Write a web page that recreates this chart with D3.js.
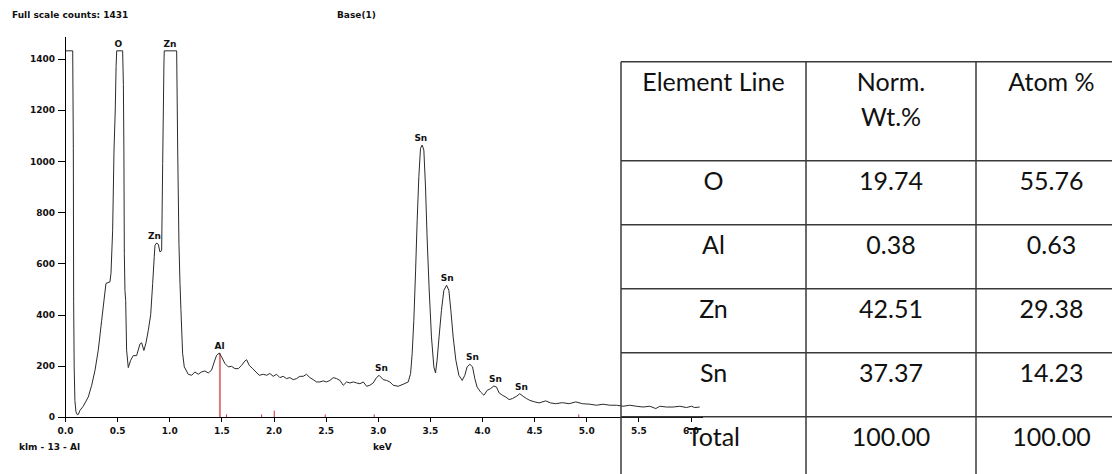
<!DOCTYPE html>
<html>
<head>
<meta charset="utf-8">
<script src="https://cdn.jsdelivr.net/npm/d3@7"></script>
<style>
  body { margin: 0; background: #fff; }
  svg { display: block; }
  .small { font-family: "DejaVu Sans", sans-serif; font-weight: bold; font-size: 9px; fill: #111; }
  .axis path, .axis line { stroke: #000; shape-rendering: crispEdges; }
  .axis text { font-family: "DejaVu Sans", sans-serif; font-weight: bold; font-size: 9px; fill: #111; }
  .cell { font-family: Lato, "Open Sans", sans-serif; font-size: 25px; fill: #111; }
</style>
</head>
<body>
<div class="eds"></div>
<script>
  // spectrum (keV / counts, clipped at full scale 1431)
  var spectrumKeV = [0.000, 0.074, 0.080, 0.083, 0.088, 0.095, 0.105, 0.118, 0.128, 0.144, 0.175, 0.223, 0.256, 0.288, 0.319, 0.352, 0.374, 0.393, 0.431, 0.441, 0.457, 0.470, 0.482, 0.490, 0.496, 0.553, 0.560, 0.565, 0.569, 0.575, 0.582, 0.591, 0.607,
    0.630, 0.655, 0.687, 0.719, 0.735, 0.757, 0.777, 0.799, 0.822, 0.841, 0.856, 0.863, 0.879, 0.895, 0.911, 0.927, 0.937, 0.949, 0.952, 1.071, 1.081, 1.093, 1.103, 1.112, 1.128, 1.144,
    1.182, 1.215, 1.246, 1.278, 1.310, 1.342, 1.374, 1.406, 1.431, 1.454, 1.480, 1.502, 1.534, 1.566, 1.598, 1.630, 1.662, 1.694, 1.726, 1.742, 1.767, 1.800, 1.831, 1.863, 1.902, 1.934, 1.965, 1.997,
    2.029, 2.061, 2.093, 2.125, 2.157, 2.189, 2.221, 2.253, 2.285, 2.317, 2.349, 2.381, 2.413, 2.445, 2.477, 2.509, 2.541, 2.573, 2.605, 2.637, 2.669, 2.701, 2.733, 2.765, 2.797, 2.829, 2.861, 2.893, 2.924, 2.956, 2.988,
    3.013, 3.052, 3.084, 3.116, 3.148, 3.196, 3.244, 3.292, 3.315, 3.330, 3.346, 3.363, 3.378, 3.394, 3.410, 3.426, 3.442, 3.458, 3.473, 3.492, 3.515, 3.538, 3.554, 3.569, 3.588, 3.611, 3.634, 3.660, 3.682,
    3.701, 3.723, 3.749, 3.778, 3.810, 3.835, 3.857, 3.883, 3.909, 3.931, 3.953, 3.986, 4.018, 4.049, 4.082, 4.113, 4.139, 4.164, 4.196, 4.228, 4.260, 4.292, 4.331, 4.362, 4.394, 4.427, 4.458, 4.506, 4.547,
    4.611, 4.659, 4.707, 4.770, 4.835, 4.899, 4.963, 5.034, 5.098, 5.161, 5.225, 5.289, 5.353, 5.417, 5.481, 5.545, 5.609, 5.667, 5.705, 5.769, 5.833, 5.897, 5.961, 6.009, 6.041, 6.088];
  var spectrumCounts = [1431, 1431, 1050, 450, 195, 65, 20, 9, 10, 26, 42, 78, 124, 183, 261, 378, 456, 522, 528, 561, 730, 1043, 1200, 1369, 1431, 1431, 1300, 1043, 640, 495, 456, 261, 193,
    222, 240, 240, 285, 290, 260, 290, 339, 400, 522, 626, 671, 680, 675, 645, 650, 991, 1383, 1431, 1431, 1043, 678, 522, 420, 249, 196,
    167, 163, 176, 167, 176, 180, 172, 183, 215, 241, 250, 235, 209, 196, 198, 189, 189, 202, 219, 224, 202, 189, 176, 163, 167, 163, 170, 159,
    167, 154, 159, 150, 154, 146, 150, 159, 159, 167, 154, 146, 137, 137, 141, 137, 143, 154, 150, 143, 124, 137, 133, 137, 133, 130, 137, 120, 124, 133, 154,
    163, 146, 143, 137, 124, 120, 128, 137, 170, 248, 378, 574, 769, 939, 1050, 1063, 1043, 899, 704, 508, 313, 196, 172, 222, 313, 417, 495, 515, 495,
    417, 313, 222, 163, 143, 163, 196, 206, 196, 150, 117, 98, 85, 104, 111, 121, 117, 94, 85, 78, 68, 72, 81, 91, 81, 72, 65, 59, 55,
    63, 55, 52, 56, 52, 59, 52, 50, 46, 50, 46, 46, 42, 46, 42, 39, 42, 33, 42, 39, 39, 42, 37, 42, 37, 39];

  var peakNames = ["O", "Zn", "Zn", "Al", "Sn", "Sn", "Sn", "Sn", "Sn", "Sn"];
  var peakKeV = [0.511, 1.007, 0.858, 1.483, 3.036, 3.413, 3.667, 3.909, 4.129, 4.379];
  var peakCounts = [1431, 1431, 680, 250, 163, 1063, 515, 206, 121, 91];

  // element marker lines (red)
  var markerKeV = [1.486, 1.55, 1.886, 2.007, 2.496, 2.966, 4.928];
  var markerCounts = [250, 10, 10, 25, 10, 10, 10];

  var xTicks = d3.range(0, 6.01, 0.5);
  var yTicks = [0, 200, 400, 600, 800, 1000, 1200, 1400];

  var tableHeader = [["Element Line"], ["Norm.", "Wt.%"], ["Atom %"]];
  var elements = ["O", "Al", "Zn", "Sn", "Total"];
  var normWt = ["19.74", "0.38", "42.51", "37.37", "100.00"];
  var atomPct = ["55.76", "0.63", "29.38", "14.23", "100.00"];

  var width = 1112, height = 474;

  var svg = d3.select(".eds").append("svg")
      .attr("width", width)
      .attr("height", height);

  var x = d3.scaleLinear().domain([0, 6.11]).range([65, 702]);
  var y = d3.scaleLinear().domain([0, 1489]).range([417, 36]);

  svg.append("text").attr("class", "small")
      .attr("x", 12).attr("y", 18)
      .text("Full scale counts: 1431");
  svg.append("text").attr("class", "small")
      .attr("x", 337).attr("y", 18)
      .text("Base(1)");

  // red marker lines
  svg.selectAll(".marker")
      .data(markerKeV)
      .enter().append("line")
      .attr("class", "marker")
      .attr("x1", function(d) { return x(d); })
      .attr("x2", function(d) { return x(d); })
      .attr("y1", y(0))
      .attr("y2", function(d, i) { return y(markerCounts[i]); })
      .attr("stroke", function(d, i) { return i == 0 ? "#e07a7a" : "#d03030"; })
      .attr("stroke-width", function(d, i) { return i == 0 ? 2 : 1; });

  var line = d3.line()
      .x(function(d) { return x(d); })
      .y(function(d, i) { return y(spectrumCounts[i]); });

  svg.append("path")
      .attr("d", line(spectrumKeV))
      .attr("fill", "none")
      .attr("stroke", "#2a2a2a")
      .attr("stroke-width", 1);

  svg.append("g")
      .attr("class", "x axis")
      .attr("transform", "translate(0," + y(0) + ")")
      .call(d3.axisBottom(x)
        .tickValues(xTicks)
        .tickFormat(d3.format(".1f"))
        .tickSize(5)
        .tickSizeOuter(0)
        .tickPadding(6));

  svg.append("g")
      .attr("class", "y axis")
      .attr("transform", "translate(" + x(0) + ",0)")
      .call(d3.axisLeft(y)
        .tickValues(yTicks)
        .tickFormat(d3.format("d"))
        .tickSize(7)
        .tickSizeOuter(0)
        .tickPadding(3));

  svg.selectAll(".axis text").attr("font-family", null).attr("font-size", null);

  svg.selectAll(".peak")
      .data(peakNames)
      .enter().append("text")
      .attr("class", "small peak")
      .attr("text-anchor", "middle")
      .attr("x", function(d, i) { return x(peakKeV[i]); })
      .attr("y", function(d, i) { return y(peakCounts[i]) - 4; })
      .text(function(d) { return d; });

  svg.append("text").attr("class", "small")
      .attr("x", 19).attr("y", 450)
      .text("klm - 13 - Al");
  svg.append("text").attr("class", "small")
      .attr("x", 373).attr("y", 450)
      .text("keV");

  // table
  var colEdges = [621, 806, 976, 1127];
  var headerTop = 61.7, headerH = 99;
  var rowY = d3.scaleBand()
      .domain(elements)
      .range([headerTop + headerH, headerTop + headerH + elements.length * 64]);

  var table = svg.append("g").attr("class", "table");
  var border = "#3a3a3a";

  var hLines = [headerTop].concat(elements.map(function(d) { return rowY(d); }));
  table.selectAll(".hline")
      .data(hLines)
      .enter().append("line")
      .attr("x1", colEdges[0]).attr("x2", width)
      .attr("y1", function(d) { return d; })
      .attr("y2", function(d) { return d; })
      .attr("stroke", border).attr("stroke-width", 1.5);

  table.selectAll(".vline")
      .data(colEdges)
      .enter().append("line")
      .attr("x1", function(d) { return d; })
      .attr("x2", function(d) { return d; })
      .attr("y1", headerTop).attr("y2", height)
      .attr("stroke", border).attr("stroke-width", 1.5);

  function colCenter(c) { return (colEdges[c] + colEdges[c + 1]) / 2; }

  tableHeader.forEach(function(lines, c) {
    lines.forEach(function(t, k) {
      table.append("text").attr("class", "cell")
          .attr("text-anchor", "middle")
          .attr("x", colCenter(c))
          .attr("y", headerTop + 29 + k * 35.7)
          .text(t);
    });
  });

  var columns = [elements, normWt, atomPct];
  columns.forEach(function(col, c) {
    table.selectAll(".c" + c)
        .data(col)
        .enter().append("text")
        .attr("class", "cell c" + c)
        .attr("text-anchor", "middle")
        .attr("x", colCenter(c))
        .attr("y", function(d, i) { return rowY(elements[i]) + 29; })
        .text(function(d) { return d; });
  });
</script>
</body>
</html>
